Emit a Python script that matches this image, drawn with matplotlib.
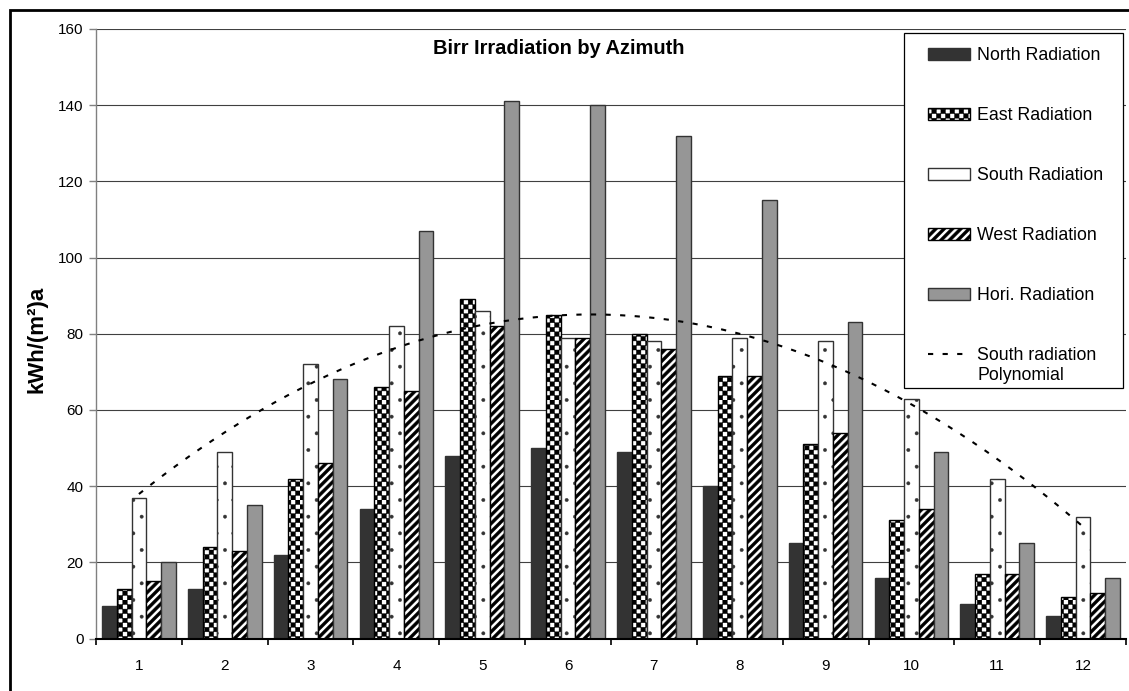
import numpy as np
import matplotlib
matplotlib.use("Agg")
import matplotlib.pyplot as plt
import matplotlib.hatch as mhatch
from matplotlib.path import Path
from matplotlib.patches import Rectangle
from matplotlib.lines import Line2D
from matplotlib.legend_handler import HandlerLine2D

# ---- data -------------------------------------------------------------
months = list(range(1, 13))
north = [8.5, 13, 22, 34, 48, 50, 49, 40, 25, 16, 9, 6]
east = [13, 24, 42, 66, 89, 85, 80, 69, 51, 31, 17, 11]
south = [37, 49, 72, 82, 86, 79, 78, 79, 78, 63, 42, 32]
west = [15, 23, 46, 65, 82, 79, 76, 69, 54, 34, 17, 12]
hori = [20, 35, 68, 107, 141, 140, 132, 115, 83, 49, 25, 16]
series_labels = ["North Radiation", "East Radiation", "South Radiation",
                 "West Radiation", "Hori. Radiation"]
trend_label = "South radiation\nPolynomial"
y_ticks = list(range(0, 161, 20))
title = "Birr Irradiation by Azimuth"
y_label = "kWh/(m²)a"

plt.rcParams["font.family"] = ["Liberation Sans", "DejaVu Sans"]
plt.rcParams["hatch.linewidth"] = 0.3


# ---- filled hatch patterns ---------------------------------------------
class CheckerHatch(mhatch.HatchPatternBase):
    """Black/white checkerboard, selected by the 'O' hatch character."""

    def __init__(self, hatch, density):
        self.cells = hatch.count("O") * 22
        self.num_vertices = (self.cells * self.cells // 2) * 5

    def set_vertices_and_codes(self, vertices, codes):
        n = self.cells
        s = 1.0 / n
        k = 0
        for i in range(n):
            for j in range(n):
                if (i + j) % 2 == 0:
                    x0, y0 = j * s, i * s
                    vertices[k:k + 5] = [(x0, y0), (x0 + s, y0), (x0 + s, y0 + s),
                                         (x0, y0 + s), (x0, y0)]
                    codes[k] = Path.MOVETO
                    codes[k + 1:k + 4] = Path.LINETO
                    codes[k + 4] = Path.CLOSEPOLY
                    k += 5


class BoldStripeHatch(mhatch.HatchPatternBase):
    """Wide filled diagonal bands, selected by the '/' hatch character."""

    def __init__(self, hatch, density):
        self.bands = hatch.count("/") * 6
        self.n_total = 2 * self.bands + 1
        self.num_vertices = self.n_total * 5 if self.bands else 0

    def set_vertices_and_codes(self, vertices, codes):
        n = self.bands
        step = 1.0 / n
        t = 0.5 * step
        k = 0
        for m in range(-n, n + 1):
            c = m * step
            vertices[k:k + 5] = [(0, c), (1, 1 + c), (1, 1 + c + t),
                                 (0, c + t), (0, c)]
            codes[k] = Path.MOVETO
            codes[k + 1:k + 4] = Path.LINETO
            codes[k + 4] = Path.CLOSEPOLY
            k += 5


mhatch._hatch_types = [h for h in mhatch._hatch_types
                       if h not in (mhatch.LargeCircles, mhatch.NorthEastHatch)]
mhatch._hatch_types += [CheckerHatch, BoldStripeHatch]


class TopLineHandler(HandlerLine2D):
    """Legend line aligned with the first line of a two-line label."""

    def create_artists(self, legend, orig_handle, xdescent, ydescent,
                       width, height, fontsize, trans):
        artists = super().create_artists(legend, orig_handle, xdescent,
                                         ydescent, width, height, fontsize,
                                         trans)
        for a in artists:
            if isinstance(a, Line2D):
                a.set_ydata(np.asarray(a.get_ydata()) + 0.67 * fontsize)
        return artists


# ---- figure -----------------------------------------------------------
W, H = 1129, 691
fig = plt.figure(figsize=(W / 100, H / 100), dpi=100)
ax = fig.add_axes([96 / W, 1 - 638.5 / H, (1126 - 96) / W, (638.5 - 29) / H])

styles = [
    dict(facecolor="#333333", edgecolor="#333333", hatch=None),
    dict(facecolor="white", edgecolor="black", hatch="O"),
    dict(facecolor="white", edgecolor="#333333", hatch="."),
    dict(facecolor="white", edgecolor="black", hatch="//"),
    dict(facecolor="#969696", edgecolor="#333333", hatch=None),
]
series = [north, east, south, west, hori]

x = np.arange(1, 13)
width = 0.86 / 5
handles = []
for i, (vals, st) in enumerate(zip(series, styles)):
    bars = ax.bar(x + (i - 2) * width, vals, width,
                  facecolor=st["facecolor"], edgecolor=st["edgecolor"],
                  hatch=st["hatch"], linewidth=1.0, zorder=2)
    handles.append(bars)

# polynomial trend of the south series
coef = np.polyfit(x, south, 2)
xs = np.linspace(1, 12, 300)
trend, = ax.plot(xs, np.polyval(coef, xs), color="black", lw=1.5,
                 ls=(0, (2.5, 4.5)), zorder=4)
handles.append(trend)

ax.set_xlim(0.5, 12.5)
ax.set_ylim(0, 160)
ax.set_yticks(y_ticks)
ax.yaxis.grid(True, color="#404040", lw=0.8)
ax.set_axisbelow(True)

ax.set_xticks(np.arange(0.5, 12.6, 1))
ax.set_xticklabels([])
ax.set_xticks(x, minor=True)
ax.set_xticklabels([str(m) for m in months], minor=True)
ax.tick_params(axis="x", which="major", direction="out", length=4.5,
               width=1.2, color="black")
ax.tick_params(axis="x", which="minor", length=0, pad=15, labelsize=11)
ax.tick_params(axis="y", direction="out", length=5, width=1,
               color="#808080", pad=4, labelsize=11)

for side in ("top", "right"):
    ax.spines[side].set_visible(False)
ax.spines["left"].set_color("#808080")
ax.spines["left"].set_linewidth(1.0)
ax.spines["bottom"].set_color("black")
ax.spines["bottom"].set_linewidth(1.5)

ax.set_ylabel(y_label, fontsize=16, fontweight="bold")
ax.yaxis.label.set_verticalalignment("center")
ax.yaxis.set_label_coords((37 - 96) / 1030, 0.49)

fig.text(559 / W, 1 - 48 / H, title, ha="center", va="center",
         fontsize=14.4, fontweight="bold")

# legend box
frame = Rectangle((904 / W, 1 - 388 / H), (1123 - 904) / W, (388 - 33) / H,
                  transform=fig.transFigure, facecolor="white",
                  edgecolor="black", lw=0.9, clip_on=False, zorder=5)
ax.add_patch(frame)
leg = ax.legend(handles, series_labels + [trend_label], loc="upper left",
                bbox_to_anchor=(928 / W, 1 - 47 / H),
                bbox_transform=fig.transFigure, frameon=False,
                borderpad=0, borderaxespad=0, fontsize=12.8,
                handlelength=2.36, handleheight=0.68, handletextpad=0.4,
                labelspacing=2.42, handler_map={trend: TopLineHandler()})
leg.set_zorder(6)

# outer chart border
fig.add_artist(Rectangle((10 / W, -0.05), 1.2, 1 - 10 / H + 0.05,
                         transform=fig.transFigure, fill=False,
                         edgecolor="black", lw=2.0))

fig.savefig("out.png", dpi=100)
